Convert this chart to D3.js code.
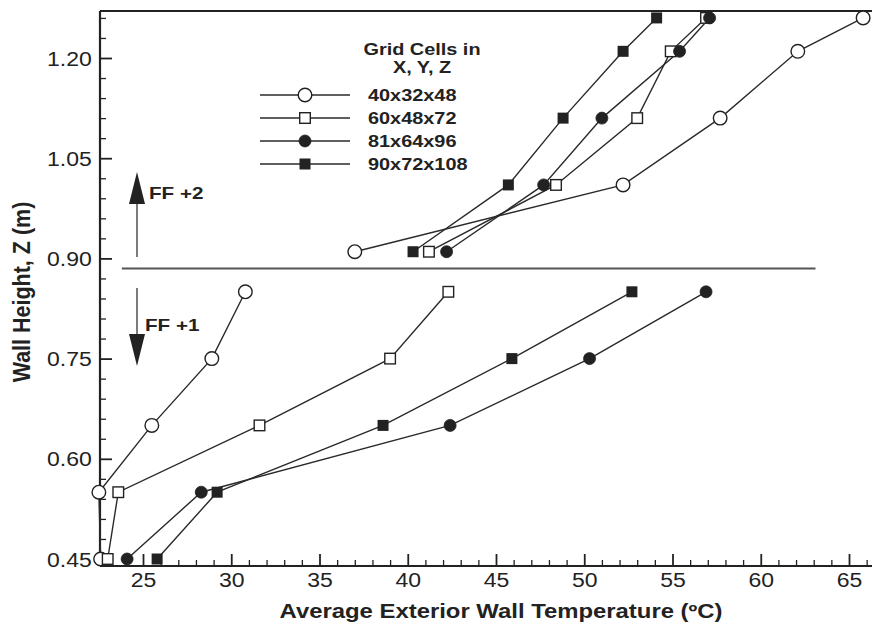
<!DOCTYPE html>
<html><head><meta charset="utf-8">
<script src="https://cdn.jsdelivr.net/npm/d3@7"></script>
<style>body{margin:0;background:#fff}svg{display:block}</style>
</head><body>
<svg id="chart" width="872" height="626"></svg>
<script>
// ---- data ----
const heightsLower = [0.45, 0.55, 0.65, 0.75, 0.85];
const heightsUpper = [0.91, 1.01, 1.11, 1.21, 1.26];
const seriesNames = ["40x32x48", "60x48x72", "81x64x96", "90x72x108"];
const tempLower40 = [22.6, 22.5, 25.5, 28.9, 30.8];
const tempUpper40 = [37.0, 52.2, 57.7, 62.1, 65.8];
const tempLower60 = [23.0, 23.6, 31.6, 39.0, 42.3];
const tempUpper60 = [41.2, 48.4, 53.0, 54.9, 56.9];
const tempLower81 = [24.1, 28.3, 42.4, 50.3, 56.9];
const tempUpper81 = [42.2, 47.7, 51.0, 55.4, 57.1];
const tempLower90 = [25.8, 29.2, 38.6, 45.9, 52.7];
const tempUpper90 = [40.3, 45.7, 48.8, 52.2, 54.1];
const xTicks = [25, 30, 35, 40, 45, 50, 55, 60, 65];
const yTicks = [0.45, 0.60, 0.75, 0.90, 1.05, 1.20];
const dividerZ = 0.885;
const legendTitle = ["Grid Cells in", "X, Y, Z"];
const xTitle = "Average Exterior Wall Temperature (ºC)";
const yTitle = "Wall Height, Z (m)";
const zoneLabels = ["FF +2", "FF +1"];

const markers = ["openCircle", "openSquare", "filledCircle", "filledSquare"];
const lowerSets = [tempLower40, tempLower60, tempLower81, tempLower90];
const upperSets = [tempUpper40, tempUpper60, tempUpper81, tempUpper90];

// ---- scales ----
const x = d3.scaleLinear().domain([25, 65]).range([143, 849]);
const y = d3.scaleLinear().domain([0.45, 1.20]).range([559, 58]);
const pLeft = 100, pRight = 872, pTop = 11, pBottom = 566;
const xMin = x.invert(pLeft), xMax = x.invert(pRight);
const yMin = y.invert(pBottom), yMax = y.invert(pTop);

const svg = d3.select("#chart");
const ink = "#222";
const FONT = "'Liberation Sans', Arial, sans-serif";
const SX = 1.18;

// ---- ticks ----
function styleAxis(g) {
  g.select(".domain").remove();
  g.selectAll("line").attr("stroke", ink);
}
const xMinor = d3.range(Math.ceil(xMin), Math.floor(xMax) + 1).filter(v => v % 5 !== 0);
svg.append("g").attr("transform", `translate(0,${pBottom})`)
  .call(d3.axisBottom(x).tickValues(xMinor).tickSize(-6).tickFormat(""))
  .call(styleAxis).selectAll("line").attr("stroke-width", 1.3);
const gx = svg.append("g").attr("transform", `translate(0,${pBottom})`)
  .call(d3.axisBottom(x).tickValues(xTicks).tickSize(-12).tickPadding(0).tickFormat(d3.format("d")))
  .call(styleAxis);
gx.selectAll("line").attr("stroke-width", 1.8);
gx.selectAll("text").attr("y", 21).attr("dy", null)
  .attr("font-family", FONT).attr("font-size", 19.5).attr("fill", ink)
  .attr("transform", `scale(${SX},1)`);

const yMinor = d3.range(0, 28).map(i => +(0.45 + i * 0.03).toFixed(2)).filter(v => !yTicks.some(t => Math.abs(t - v) < 1e-6));
svg.append("g").attr("transform", `translate(${pLeft},0)`)
  .call(d3.axisLeft(y).tickValues(yMinor).tickSize(-6).tickFormat(""))
  .call(styleAxis).selectAll("line").attr("stroke-width", 1.3);
const gy = svg.append("g").attr("transform", `translate(${pLeft},0)`)
  .call(d3.axisLeft(y).tickValues(yTicks).tickSize(-12).tickPadding(0).tickFormat(d3.format(".2f")))
  .call(styleAxis);
gy.selectAll("line").attr("stroke-width", 1.8);
gy.selectAll("text").attr("x", -7).attr("dy", "0.36em")
  .attr("font-family", FONT).attr("font-size", 19.5).attr("fill", ink)
  .attr("transform", `scale(${SX},1)`);

// ---- frame ----
const frame = svg.append("g").attr("stroke", ink).attr("stroke-width", 2.2).attr("fill", "none");
frame.append("line").attr("x1", x(xMin)).attr("x2", x(xMin)).attr("y1", y(yMax)).attr("y2", y(yMin));
frame.append("line").attr("x1", x(xMin)).attr("x2", x(xMax)).attr("y1", y(yMax)).attr("y2", y(yMax));
frame.append("line").attr("x1", x(xMin)).attr("x2", x(xMax)).attr("y1", y(yMin)).attr("y2", y(yMin));

// ---- divider ----
svg.append("line").attr("x1", x(23.8)).attr("x2", x(63.1))
  .attr("y1", y(dividerZ)).attr("y2", y(dividerZ))
  .attr("stroke", "#555").attr("stroke-width", 2);

// ---- arrows ----
const arrowX = x.invert(137);
function arrow(z0, z1) {
  const x0 = x(arrowX), y0 = y(z0), y1 = y(z1);
  const dir = Math.sign(y1 - y0);
  const headLen = 32, headHalf = 8;
  svg.append("line").attr("x1", x0).attr("x2", x0).attr("y1", y0).attr("y2", y1 - dir * headLen)
    .attr("stroke", "#444").attr("stroke-width", 1.4);
  svg.append("path")
    .attr("d", `M${x0},${y1} L${x0 - headHalf},${y1 - dir * headLen} L${x0 + headHalf},${y1 - dir * headLen}Z`)
    .attr("fill", ink);
}
arrow(y.invert(257), y.invert(172));
arrow(y.invert(288), y.invert(366));

function label(txt, px, py, size, anchor, bold, sx) {
  const t = svg.append("text").attr("transform", `translate(${px},${py}) scale(${sx},1)`)
    .attr("font-family", FONT).attr("font-size", size).attr("fill", ink)
    .attr("text-anchor", anchor).text(txt);
  if (bold) t.attr("font-weight", "bold");
  return t;
}
label(zoneLabels[0], 149, 199, 16.5, "start", true, 1.25);
label(zoneLabels[1], 145, 331, 16.5, "start", true, 1.25);

// ---- series ----
const lineGen = d3.line().x(d => x(d[0])).y(d => y(d[1]));
function drawMarker(g, kind, cx, cy) {
  if (kind === "openCircle") g.append("circle").attr("cx", cx).attr("cy", cy).attr("r", 6.8).attr("fill", "#fff").attr("stroke", ink).attr("stroke-width", 1.4);
  else if (kind === "filledCircle") g.append("circle").attr("cx", cx).attr("cy", cy).attr("r", 6).attr("fill", ink).attr("stroke", ink).attr("stroke-width", 0.8);
  else if (kind === "openSquare") g.append("rect").attr("x", cx - 5.3).attr("y", cy - 5.3).attr("width", 10.6).attr("height", 10.6).attr("fill", "#fff").attr("stroke", ink).attr("stroke-width", 1.4);
  else g.append("rect").attr("x", cx - 5.5).attr("y", cy - 5.5).attr("width", 11).attr("height", 11).attr("fill", ink);
}
const plot = svg.append("g");
markers.forEach((m, i) => {
  [[lowerSets[i], heightsLower], [upperSets[i], heightsUpper]].forEach(([temps, hs]) => {
    const pts = temps.map((t, k) => [t, hs[k]]);
    plot.append("path").attr("d", lineGen(pts)).attr("fill", "none").attr("stroke", "#2a2a2a").attr("stroke-width", 1.4);
  });
});
markers.forEach((m, i) => {
  [[lowerSets[i], heightsLower], [upperSets[i], heightsUpper]].forEach(([temps, hs]) => {
    temps.forEach((t, k) => drawMarker(plot, m, x(t), y(hs[k])));
  });
});

// ---- legend ----
label(legendTitle[0], 422, 55, 16.3, "middle", true, 1.22);
label(legendTitle[1], 422, 73, 16.3, "middle", true, 1.22);
const legY = [95, 118, 141, 164];
seriesNames.forEach((n, i) => {
  const g = svg.append("g");
  g.append("line").attr("x1", 260).attr("x2", 350).attr("y1", legY[i]).attr("y2", legY[i]).attr("stroke", "#2a2a2a").attr("stroke-width", 1.4);
  drawMarker(g, markers[i], 305, legY[i]);
  label(n, 368, legY[i] + 6, 16.3, "start", true, 1.22);
});

// ---- axis titles ----
label(xTitle, 501, 618, 19.9, "middle", true, 1.2);
svg.append("text").attr("transform", `translate(30,292) rotate(-90) scale(1,1.15)`)
  .attr("font-family", FONT).attr("font-size", 21.5).attr("font-weight", "bold").attr("fill", ink)
  .attr("text-anchor", "middle").text(yTitle);
</script>
</body></html>
